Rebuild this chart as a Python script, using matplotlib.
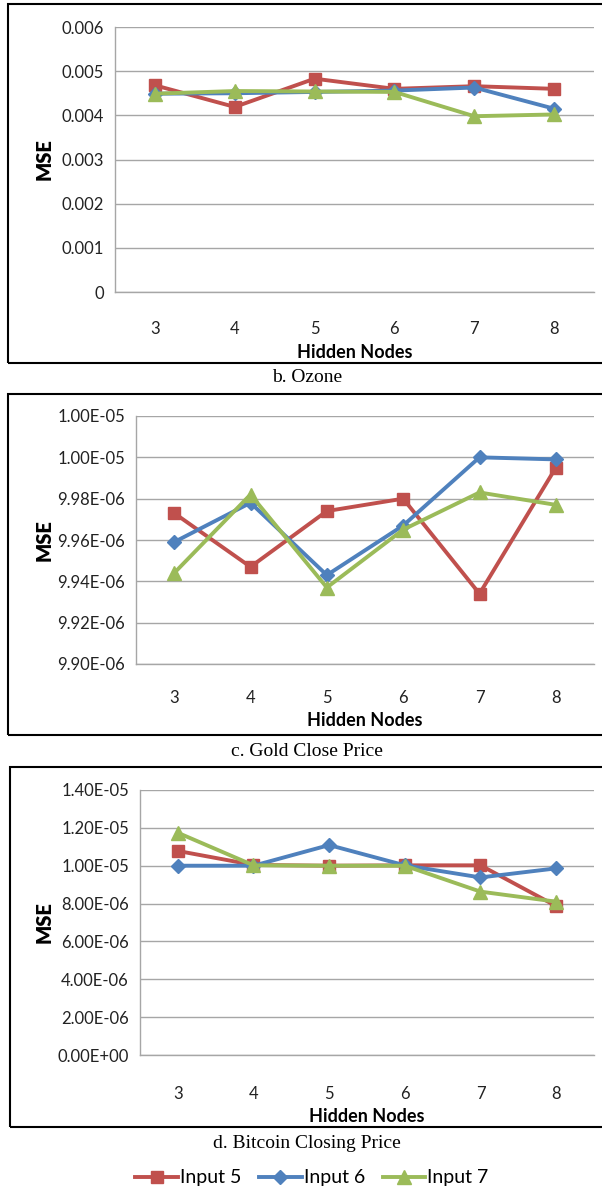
import matplotlib
matplotlib.use("Agg")
import matplotlib.pyplot as plt
from matplotlib.lines import Line2D
from matplotlib.patches import Rectangle
from matplotlib.ticker import FixedLocator, FuncFormatter

plt.rcParams["font.family"] = ["Lato", "DejaVu Sans"]

NODES = [3, 4, 5, 6, 7, 8]
SERIES = ["Input 5", "Input 6", "Input 7"]
COLORS = {"Input 5": "#C0504D", "Input 6": "#4F81BD", "Input 7": "#9BBB59"}
MARKERS = {"Input 5": "s", "Input 6": "D", "Input 7": "^"}
MSIZE = {"Input 5": 9, "Input 6": 7.5, "Input 7": 10}

# b. Ozone
ozone = {
    "Input 5": [0.00468, 0.00419, 0.00483, 0.00460, 0.00466, 0.00460],
    "Input 6": [0.00449, 0.00450, 0.00453, 0.00456, 0.00463, 0.00415],
    "Input 7": [0.00449, 0.00455, 0.00454, 0.00453, 0.00398, 0.00402],
}
ozone_ticks = [0, 0.001, 0.002, 0.003, 0.004, 0.005, 0.006]

# c. Gold Close Price
gold = {
    "Input 5": [9.973e-6, 9.947e-6, 9.974e-6, 9.980e-6, 9.934e-6, 9.995e-6],
    "Input 6": [9.959e-6, 9.978e-6, 9.943e-6, 9.967e-6, 1.0000e-5, 9.999e-6],
    "Input 7": [9.944e-6, 9.982e-6, 9.937e-6, 9.965e-6, 9.983e-6, 9.977e-6],
}
gold_ticks = [9.90e-6, 9.92e-6, 9.94e-6, 9.96e-6, 9.98e-6, 1.000e-5, 1.002e-5]

# d. Bitcoin Closing Price
bitcoin = {
    "Input 5": [1.078e-5, 1.004e-5, 1.000e-5, 1.002e-5, 1.002e-5, 7.87e-6],
    "Input 6": [1.000e-5, 1.000e-5, 1.109e-5, 1.002e-5, 9.38e-6, 9.86e-6],
    "Input 7": [1.174e-5, 1.002e-5, 1.000e-5, 1.000e-5, 8.63e-6, 8.10e-6],
}
bitcoin_ticks = [0, 2e-6, 4e-6, 6e-6, 8e-6, 1.0e-5, 1.2e-5, 1.4e-5]

W, H = 602, 1191
fig = plt.figure(figsize=(W / 100, H / 100), dpi=100)


def px_axes(left, right, top, bottom):
    return fig.add_axes([left / W, 1 - bottom / H, (right - left) / W, (bottom - top) / H])


def sci(v, _pos=None):
    return f"{v:.2E}"


def panel(box, frame, data, ticks, fmt, ylab_x, xlab_y, tick_y, caption, cap_y):
    ax = px_axes(*box)
    x = list(range(len(NODES)))
    for name in SERIES:
        ax.plot(x, data[name], color=COLORS[name], lw=2.8, marker=MARKERS[name],
                ms=MSIZE[name], mec=COLORS[name], mfc=COLORS[name], zorder=3)
    ax.set_xlim(-0.5, len(NODES) - 0.5)
    ax.set_ylim(ticks[0], ticks[-1])
    ax.yaxis.set_major_locator(FixedLocator(ticks))
    ax.yaxis.set_major_formatter(FuncFormatter(fmt))
    ax.set_xticks(x)
    ax.set_xticklabels([str(n) for n in NODES])
    ax.grid(axis="y", color="#A6A6A6", lw=1.0)
    ax.set_axisbelow(True)
    for s in ("top", "right"):
        ax.spines[s].set_visible(False)
    for s in ("left", "bottom"):
        ax.spines[s].set_color("#A6A6A6")
        ax.spines[s].set_linewidth(1.0)
    ax.tick_params(length=0, labelsize=12, colors="#222222", pad=8)
    ax.tick_params(axis="x", pad=(tick_y - box[3]) - 6)
    # frame around the chart (right edge runs off the image)
    l, t, b = frame
    fig.patches.append(Rectangle((l / W, 1 - b / H), (W + 10 - l) / W, (b - t) / H,
                                 transform=fig.transFigure, fill=False,
                                 edgecolor="black", lw=1.5))
    fig.text(ylab_x / W, 1 - (box[2] + box[3]) / 2 / H, "MSE", rotation=90,
             ha="center", va="center", fontsize=14.5, fontweight="heavy")
    fig.text((box[0] + box[1]) / 2 / W, 1 - xlab_y / H, "Hidden Nodes",
             ha="center", va="center", fontsize=13, fontweight="bold")
    fig.text(W / 2 / W + 0.01, 1 - cap_y / H, caption, ha="center", va="center",
             fontsize=14, family=["Liberation Serif", "DejaVu Serif"])
    return ax


panel((115, 594, 27, 292), (8, 4, 363), ozone, ozone_ticks,
      lambda v, p: "0" if v == 0 else f"{v:.3f}", 44, 352, 319, "b. Ozone", 377)
panel((136, 594, 416, 664), (8, 394, 735), gold, gold_ticks, sci,
      44, 720, 689, "c. Gold Close Price", 751)
panel((140, 594, 790, 1055), (10, 767, 1127), bitcoin, bitcoin_ticks, sci,
      44, 1116, 1083, "d. Bitcoin Closing Price", 1144)

handles = [Line2D([], [], color=COLORS[n], lw=2.8, marker=MARKERS[n],
                  ms=MSIZE[n], mfc=COLORS[n], mec=COLORS[n]) for n in SERIES]
fig.legend(handles, SERIES, loc="center", bbox_to_anchor=(312 / W, 1 - 1178 / H),
           ncol=3, frameon=False, fontsize=14, handlelength=2.2,
           handletextpad=0.1, columnspacing=0.9)

fig.savefig("out.png", dpi=100)
